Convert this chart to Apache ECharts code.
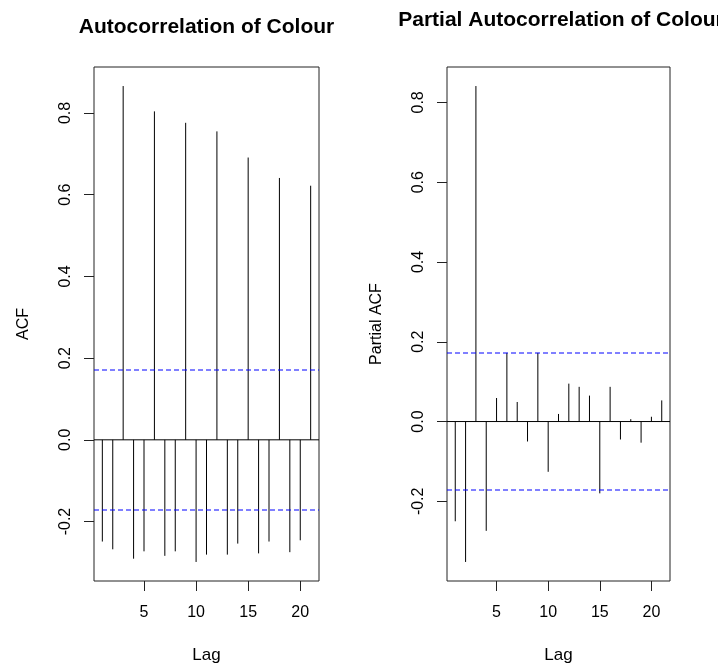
<!DOCTYPE html>
<html>
<head>
<meta charset="utf-8">
<script src="https://cdn.jsdelivr.net/npm/echarts@6/dist/echarts.min.js"></script>
<style>
html,body{margin:0;padding:0;background:#fff;}
#chart{width:718px;height:666px;}
</style>
</head>
<body>
<div id="chart"></div>
<script>
// ---- data ----
var lags = [1,2,3,4,5,6,7,8,9,10,11,12,13,14,15,16,17,18,19,20,21];
var acfValues = [-0.249,-0.268,0.866,-0.291,-0.273,0.804,-0.284,-0.273,0.776,-0.299,-0.281,0.755,-0.281,-0.254,0.691,-0.278,-0.249,0.641,-0.275,-0.246,0.622];
var pacfValues = [-0.250,-0.352,0.841,-0.274,0.059,0.172,0.049,-0.050,0.172,-0.126,0.019,0.095,0.087,0.065,-0.180,0.087,-0.045,0.006,-0.053,0.012,0.053];
var confBound = [0.172, -0.172];
var xTicks = [5,10,15,20];
var yTicks = [-0.2,0.0,0.2,0.4,0.6,0.8];
var titles = ['Autocorrelation of Colour','Partial Autocorrelation of Colour'];
var yNames = ['ACF','Partial ACF'];
var xName = 'Lag';

// R-style 4% extended ranges
function ext(arr){
  var lo = Math.min.apply(null, arr), hi = Math.max.apply(null, arr);
  var r = hi - lo;
  return [lo - 0.04*r, hi + 0.04*r];
}
var xr = ext(lags);
var yrA = ext(acfValues.concat(confBound));
var yrP = ext(pacfValues.concat(confBound));

var FONT = '"Liberation Sans", Arial, sans-serif';
var BLUE = 'rgb(0,0,255)';
var chart = echarts.init(document.getElementById('chart'), null, {renderer:'canvas'});

function makeX(idx){
  return {
    type:'value', gridIndex:idx, min:xr[0], max:xr[1], position:'bottom',
    name: xName, nameLocation:'middle', nameGap:66,
    nameTextStyle:{fontFamily:FONT, fontSize:17, color:'#000'},
    axisLine:{show:false, onZero:false},
    axisPointer:{show:false},
    axisTick:{show:true, length:10, inside:false, customValues:xTicks, lineStyle:{color:'#222', width:1}},
    axisLabel:{show:true, customValues:xTicks, margin:24, fontFamily:FONT, fontSize:16, color:'#000'},
    splitLine:{show:false}
  };
}
function makeY(idx, yr){
  return {
    type:'value', gridIndex:idx, min:yr[0], max:yr[1], position:'left',
    name: yNames[idx], nameLocation:'middle', nameGap:62, nameRotate:90,
    nameTextStyle:{fontFamily:FONT, fontSize:16, color:'#000'},
    axisLine:{show:false, onZero:false},
    axisPointer:{show:false},
    axisTick:{show:true, length:10, inside:false, customValues:yTicks, lineStyle:{color:'#222', width:1}},
    axisLabel:{show:true, customValues:yTicks, rotate:90, margin:20, fontFamily:FONT, fontSize:16, color:'#000',
      formatter:function(v){ return (Math.round(v*10)/10).toFixed(1); }},
    splitLine:{show:false}
  };
}
function makeBars(idx, values){
  var data = lags.map(function(l,i){ return [l, values[i]]; });
  return {
    type:'custom', xAxisIndex:idx, yAxisIndex:idx,
    data:data, silent:true, z:3,
    renderItem:function(params, api){
      var p0 = api.coord([api.value(0), 0]);
      var p1 = api.coord([api.value(0), api.value(1)]);
      return {type:'line', shape:{x1:p0[0], y1:p0[1], x2:p1[0], y2:p1[1]},
        style:{stroke:'#000', lineWidth:1}};
    }
  };
}
// horizontal reference lines: [y value, kind] (kind 0 = zero line, 1 = confidence bound)
var refLines = [[0, 0], [confBound[1], 1], [confBound[0], 1]];
function makeRefLines(idx){
  return {
    type:'custom', xAxisIndex:idx, yAxisIndex:idx,
    data:refLines, silent:true, z:4,
    encode:{y:0},
    renderItem:function(params, api){
      var yv = api.value(0), kind = api.value(1);
      var p0 = api.coord([xr[0], yv]);
      var p1 = api.coord([xr[1], yv]);
      if (kind === 1) {
        // snap to a pixel boundary so the 1px blue line is rendered consistently
        var yy = Math.round(p0[1]);
        return {type:'line', shape:{x1:p0[0], y1:yy, x2:p1[0], y2:yy},
          style:{stroke:BLUE, fill:null, lineWidth:1, lineDash:[5,3]}};
      }
      return {type:'line', shape:{x1:p0[0], y1:p0[1], x2:p1[0], y2:p1[1]},
        style:{stroke:'#000', fill:null, lineWidth:1}};
    }
  };
}

var series = [
  makeBars(0, acfValues), makeRefLines(0),
  makeBars(1, pacfValues), makeRefLines(1)
];

var option = {
  backgroundColor:'#fff',
  animation:false,
  tooltip:{show:false},
  grid:[
    {left:94, top:67, width:225, height:514, containLabel:false, outerBoundsMode:'none', show:true, borderColor:'#222', borderWidth:1, backgroundColor:'transparent'},
    {left:447, top:67, width:223, height:514, containLabel:false, outerBoundsMode:'none', show:true, borderColor:'#222', borderWidth:1, backgroundColor:'transparent'}
  ],
  xAxis:[makeX(0), makeX(1)],
  yAxis:[makeY(0, yrA), makeY(1, yrP)],
  series:series,
  graphic:[
    {type:'text', x:206.5, y:27, style:{text:titles[0], font:'bold 21px '+FONT, fill:'#000', textAlign:'center', textVerticalAlign:'middle'}},
    {type:'text', x:561, y:20, style:{text:titles[1], font:'bold 21px '+FONT, fill:'#000', textAlign:'center', textVerticalAlign:'middle'}}
  ]
};
chart.setOption(option);
</script>
</body>
</html>
